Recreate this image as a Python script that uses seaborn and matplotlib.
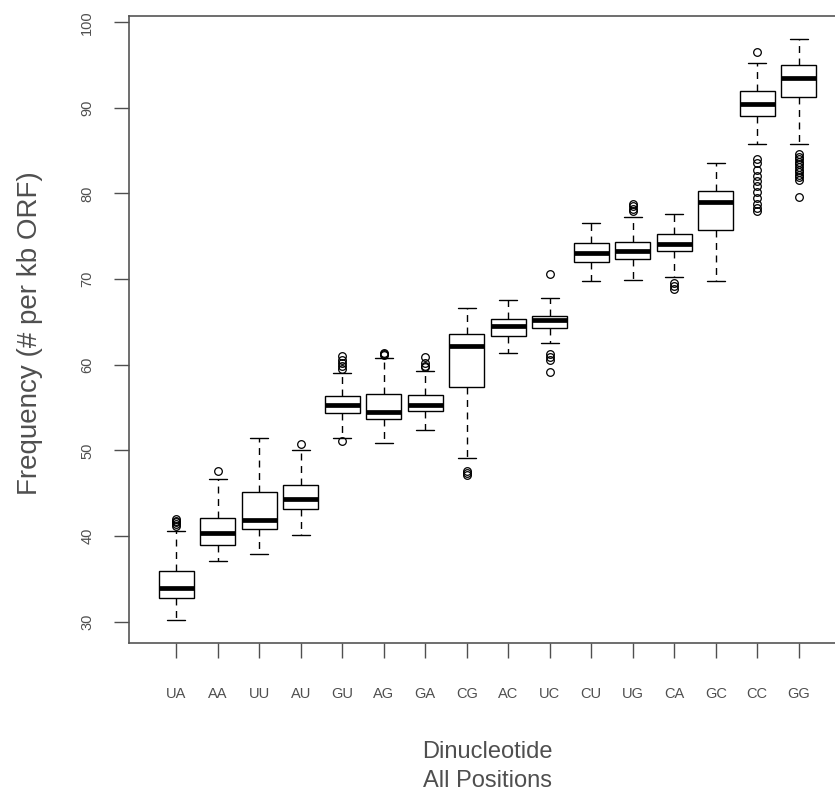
import pandas as pd
import matplotlib
matplotlib.use("Agg")
import matplotlib.pyplot as plt
import seaborn as sns

# five-number summaries, one entry per dinucleotide
dinucleotides = ["UA", "AA", "UU", "AU", "GU", "AG", "GA", "CG",
                 "AC", "UC", "CU", "UG", "CA", "GC", "CC", "GG"]
whisker_lo = [30.23, 37.03, 37.92, 40.14, 51.48, 50.9, 52.37, 49.07,
              61.39, 62.48, 69.74, 69.93, 70.2, 69.74, 85.78, 85.78]
q1 = [32.8, 38.97, 40.76, 43.13, 54.32, 53.7, 54.59, 57.43,
      63.41, 64.3, 71.95, 72.34, 73.23, 75.68, 89.05, 91.3]
medians = [33.92, 40.29, 41.85, 44.26, 55.25, 54.51, 55.25, 62.24,
           64.49, 65.2, 73.04, 73.27, 74.13, 78.99, 90.41, 93.44]
q3 = [35.94, 42.08, 45.19, 45.96, 56.34, 56.53, 56.5, 63.6,
      65.35, 65.74, 74.21, 74.36, 75.26, 80.31, 91.96, 94.99]
whisker_hi = [40.53, 46.7, 51.48, 50.0, 58.98, 60.73, 59.3, 66.63,
              67.6, 67.85, 76.54, 77.31, 77.59, 83.53, 95.26, 98.02]
outliers_low = [[], [], [], [], [51.1], [], [], [47.6, 47.3, 47.1],
                [], [61.2, 60.9, 60.6, 59.18], [], [], [69.5, 69.2, 68.9], [],
                [84.0, 83.6, 82.8, 82.0, 81.5, 80.9, 80.2, 79.5, 78.8, 78.3, 78.0],
                [84.6, 84.3, 84.0, 83.7, 83.4, 83.1, 82.8, 82.5, 82.2, 81.9, 81.6, 79.64]]
outliers_high = [[42.0, 41.8, 41.6, 41.4, 41.2], [47.6], [], [50.7],
                 [61.0, 60.6, 60.2, 59.8, 59.5], [61.4, 61.3, 61.1],
                 [60.9, 60.2, 59.9, 59.7], [], [], [70.6], [],
                 [78.8, 78.5, 78.2, 77.9], [], [], [96.47], []]
y_ticks = [30, 40, 50, 60, 70, 80, 90, 100]


def sample_for(lo, a, m, b, hi, out_lo, out_hi):
    # balanced sample whose quartiles / whiskers reproduce the summary exactly
    s = max(len(out_lo), len(out_hi)) + 1
    low = out_lo + [lo] * (s - len(out_lo))
    high = [hi] * (s - len(out_hi)) + out_hi
    k = s + 1
    return low + [a] * k + [m] + [b] * k + high


rows = []
for i, name in enumerate(dinucleotides):
    vals = sample_for(whisker_lo[i], q1[i], medians[i], q3[i], whisker_hi[i],
                      outliers_low[i], outliers_high[i])
    rows += [(name, v) for v in vals]
df = pd.DataFrame(rows, columns=["Dinucleotide", "Frequency"])

sns.set_style("white")
plt.rcParams['font.family'] = ['Liberation Sans', 'DejaVu Sans']
text_col = "#4f4f4f"

fig = plt.figure(figsize=(8.35, 7.96), dpi=100)
ax = fig.add_axes([129 / 835, 1 - 643 / 796, 717 / 835, 627 / 796])

sns.boxplot(data=df, x="Dinucleotide", y="Frequency", order=dinucleotides,
            color="white", linecolor="black", width=0.85, linewidth=1.0,
            whis=1.5, ax=ax,
            medianprops=dict(linewidth=3.4, solid_capstyle="butt"),
            whiskerprops=dict(linestyle=(0, (5, 4)), linewidth=1.0),
            capprops=dict(linewidth=1.0),
            flierprops=dict(marker="o", markerfacecolor="none",
                            markeredgecolor="black", markersize=5.5,
                            markeredgewidth=0.9))

ax.set_xlim(-1.14, 16.14)
ax.set_ylim(27.5, 100.73)
ax.set_yticks(y_ticks)
ax.set_yticklabels([str(t) for t in y_ticks], rotation=90, va="center")

ax.tick_params(axis="y", left=True, length=11, width=1, pad=14,
               colors=text_col, labelsize=10.5)
ax.tick_params(axis="x", bottom=True, length=11, width=1, pad=21,
               colors=text_col, labelsize=10.5)

for side in ["left", "bottom", "top"]:
    ax.spines[side].set_color("#555555")
    ax.spines[side].set_linewidth(1.2)
ax.spines["right"].set_visible(False)

ax.set_xlabel("Dinucleotide\nAll Positions", fontsize=17, color=text_col,
              linespacing=1.45, va="center")
ax.xaxis.set_label_coords(0.5, -0.197)
ax.set_ylabel("Frequency (# per kb ORF)", fontsize=20, color=text_col,
              va="center")
ax.yaxis.set_label_coords(-0.138, 0.494)

plt.savefig("out.png", dpi=100)
